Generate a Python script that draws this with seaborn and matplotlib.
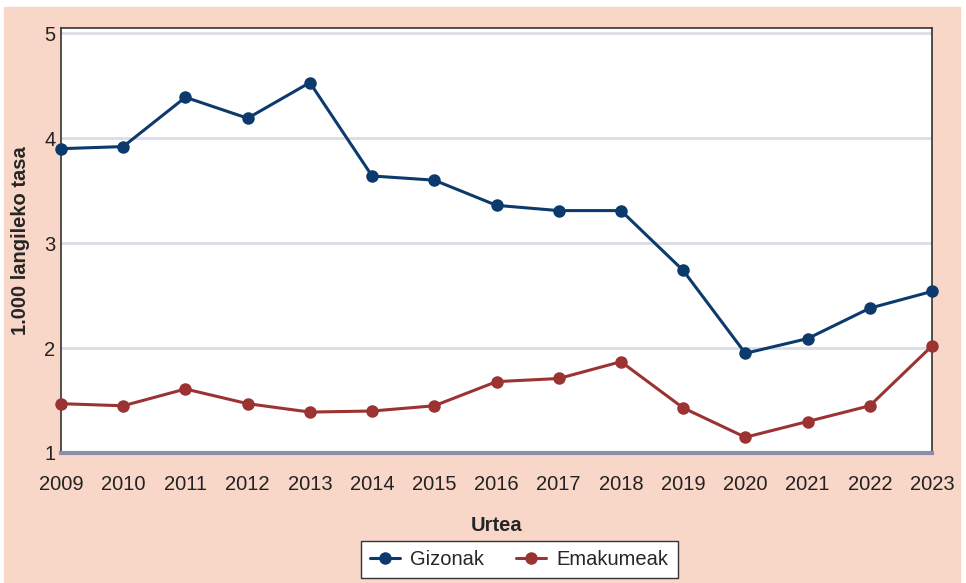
import numpy as np
import pandas as pd
import matplotlib
matplotlib.use("Agg")
import matplotlib.pyplot as plt
import seaborn as sns

# data
years = list(range(2009, 2024))
gizonak = [3.90, 3.92, 4.39, 4.19, 4.53, 3.64, 3.60, 3.36, 3.31, 3.31, 2.74, 1.95, 2.09, 2.38, 2.54]
emakumeak = [1.47, 1.45, 1.61, 1.47, 1.39, 1.40, 1.45, 1.68, 1.71, 1.87, 1.43, 1.15, 1.30, 1.45, 2.02]

df = pd.DataFrame({"Urtea": years * 2,
                   "tasa": gizonak + emakumeak,
                   "Sexua": ["Gizonak"] * len(years) + ["Emakumeak"] * len(years)})

sns.set_style("white")
plt.rcParams["font.family"] = ["Liberation Sans", "DejaVu Sans"]

bg = "#F9D7C8"
fig = plt.figure(figsize=(9.66, 5.83), dpi=100, facecolor="white")
fig.patches.append(plt.Rectangle((4 / 966, 0), 956 / 966, 1 - 7 / 583,
                                 transform=fig.transFigure, color=bg, zorder=-10))
ax = fig.add_axes([61 / 966, 1 - 453 / 583, 871 / 966, 425 / 583])
ax.set_facecolor("white")

sns.lineplot(data=df, x="Urtea", y="tasa", hue="Sexua", ax=ax,
             palette={"Gizonak": "#0C3A6D", "Emakumeak": "#9C3333"},
             marker="o", markersize=9, markeredgewidth=0, linewidth=2.2,
             clip_on=False, zorder=5)

ax.set_xlim(2009, 2023)
ax.set_ylim(1, 5.05)
ax.set_xticks(years)
ax.set_yticks([1, 2, 3, 4, 5])
ax.yaxis.grid(True, color="#DCDCE6", linewidth=2)
ax.set_axisbelow(True)
for s in ["left", "right", "top"]:
    ax.spines[s].set_color("#333333")
    ax.spines[s].set_linewidth(1.2)
ax.spines["bottom"].set_color("#8A8EA8")
ax.spines["bottom"].set_linewidth(3)
ax.tick_params(axis="both", length=0, labelsize=14.5, colors="#222222")
ax.tick_params(axis="x", pad=16)
ax.tick_params(axis="y", pad=4)
ax.set_xlabel("Urtea", fontsize=14.5, fontweight="bold", labelpad=16)
ax.set_ylabel("1.000 langileko tasa", fontsize=14.5, fontweight="bold", labelpad=10)

ax.legend(loc="upper center", bbox_to_anchor=(0.526, -0.207), ncol=2, frameon=True,
          fancybox=False, edgecolor="#333333", framealpha=1, fontsize=14.5, title=None,
          handlelength=1.5, handletextpad=0.5, columnspacing=1.6, borderpad=0.45,
          borderaxespad=0)

plt.savefig("out.png", dpi=100, facecolor=fig.get_facecolor())
